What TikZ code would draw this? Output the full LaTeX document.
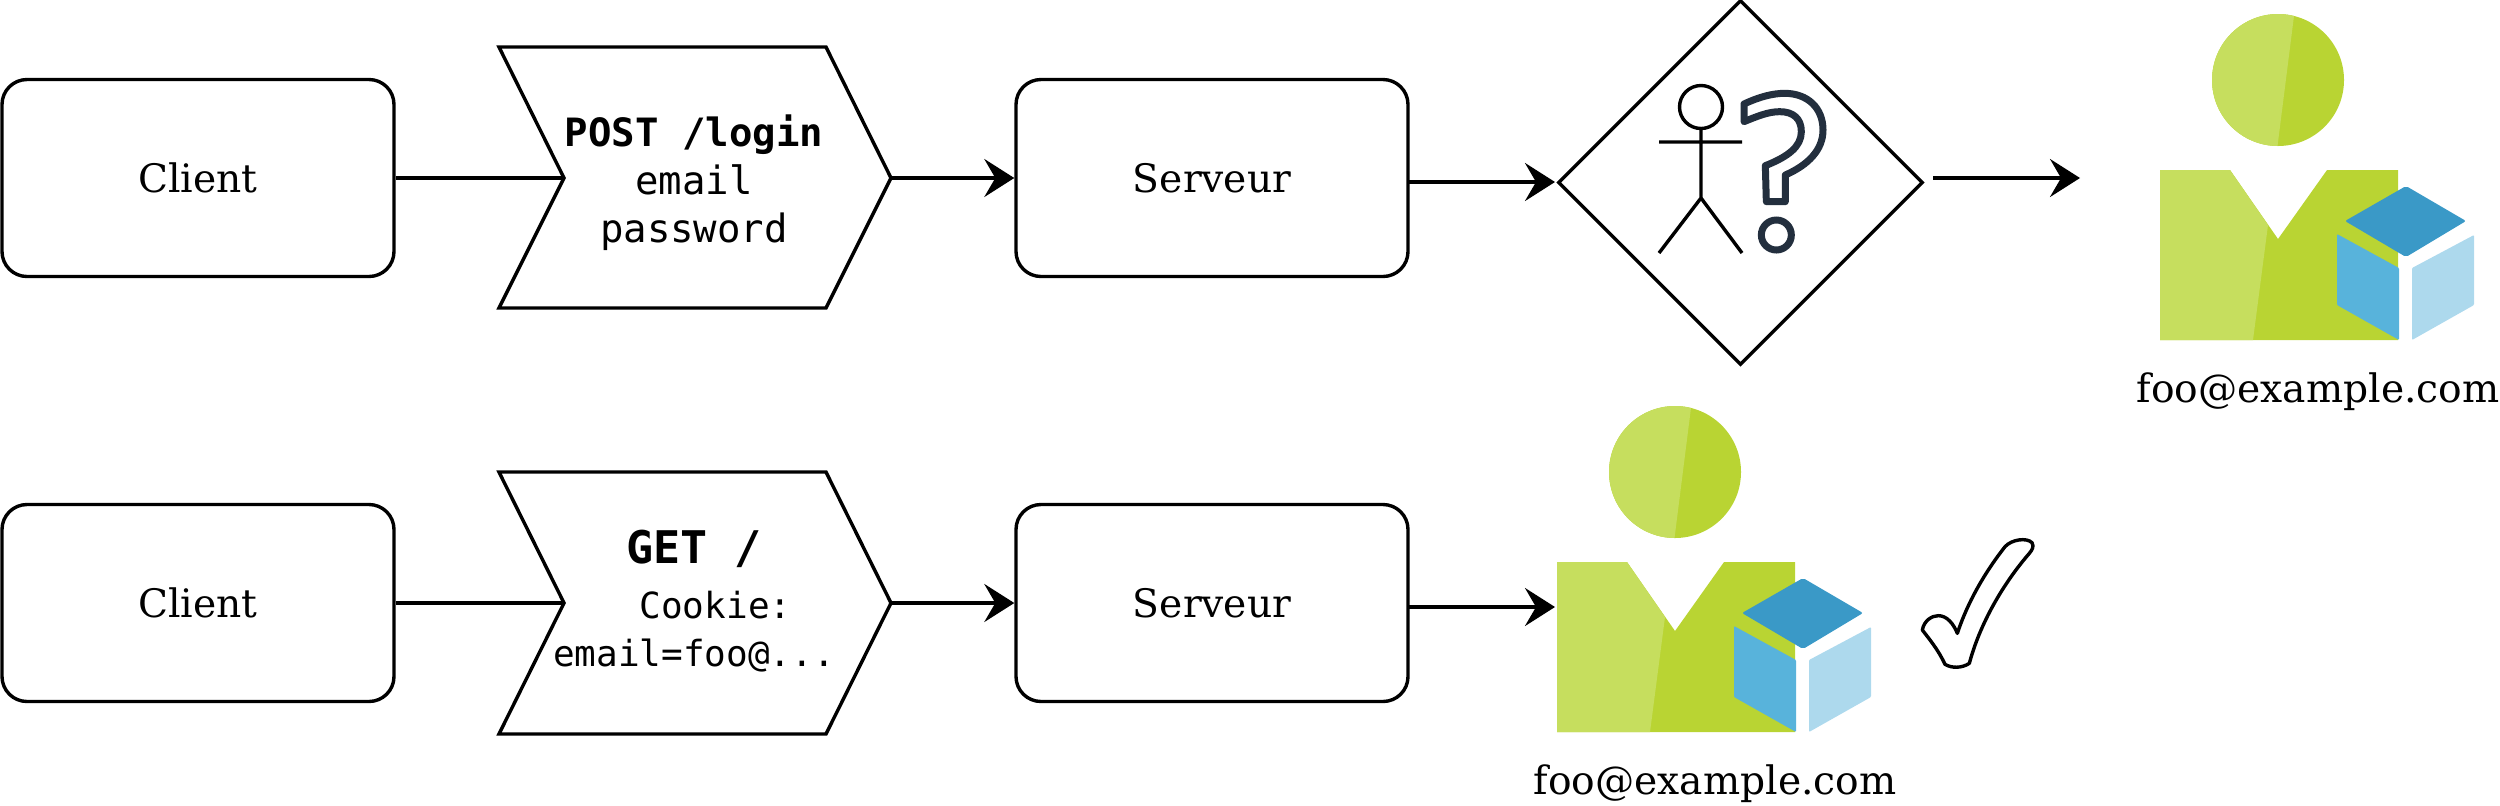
\documentclass[tikz,border=0pt]{standalone}
\usepackage{fontspec}
\setmainfont{DejaVu Serif}
\setmonofont{DejaVu Sans Mono}
\usetikzlibrary{shapes.geometric,arrows.meta}
\definecolor{lgreen}{HTML}{C6DE5E}
\definecolor{dgreen}{HTML}{B9D433}
\definecolor{ctop}{HTML}{3A99C7}
\definecolor{cleft}{HTML}{58B3DB}
\definecolor{cright}{HTML}{ADD9ED}
\definecolor{qmark}{HTML}{232F3E}
\tikzset{
  ln/.style={line width=1.7pt,draw=black,line join=miter},
  arr/.style={ln,-{Stealth[length=15pt,width=19pt,inset=5.5pt]}},
  bx/.style={ln,fill=white,rectangle,rounded corners=12.5pt,minimum width=196pt,minimum height=98.5pt,inner sep=0pt,font=\fontsize{19.6}{24}\selectfont},
  steptxt/.style={align=center,inner sep=0pt,font=\ttfamily\fontsize{19.5}{24}\selectfont},
  mail/.style={inner sep=0pt,font=\fontsize{19.6}{24}\selectfont,anchor=base},
  stepshape/.style={ln,fill=white}
}
\newcommand{\usericon}[3]{%
  \begin{scope}[shift={(#1,#2)}]
    \fill[dgreen] (2278,80) circle[radius=66];
    \begin{scope}
      \clip (2278,80) circle[radius=66];
      \fill[lgreen] (2200,0) -- (2296,0) -- (2277,150) -- (2200,150) -- cycle;
    \end{scope}
    \fill[dgreen] (2160,170) -- (2230,170) -- (2278,239) -- (2327,170) -- (2398,170) -- (2398,340) -- (2160,340) -- cycle;
    \fill[lgreen] (2160,170) -- (2230,170) -- (2268,225) -- (2253,340) -- (2160,340) -- cycle;
    \fill[ctop,rounded corners=1pt] (2406,186) -- (2466,221) -- (2406,257) -- (2345,221) -- cycle;
    \fill[cleft,rounded corners=.5pt] (2337,234) -- (2399,268) -- (2399,340) -- (2337,305) -- cycle;
    \fill[cright,rounded corners=.5pt] (2412,268) -- (2474,235) -- (2474,305) -- (2412,340) -- cycle;
    \node[mail] (#3) at (2318,402) {foo@example.com};
  \end{scope}}
\begin{document}
\begin{tikzpicture}[x=0.5pt,y=-0.5pt]
\useasboundingbox (0,0) rectangle (2500,805);
% row 1
\node[bx] (client1) at (198,178) {Client};
\node[bx] (server1) at (1212,178) {Serveur};
\draw[stepshape] (499,47) -- (826,47) -- (891,178) coordinate (s1tip) -- (826,308) -- (499,308) -- (564,178) coordinate (s1notch) -- cycle;
\node[steptxt] (s1text) at (694,183) {\textbf{POST /login}\\email\\password};
\node[diamond,ln,aspect=1,minimum width=182.5pt,minimum height=182.5pt,inner sep=0pt] (gate) at (1740.5,182.5) {};
\draw[ln] (client1.east) -- (s1notch);
\draw[arr] (s1tip) -- (server1.west);
\coordinate (srv1out) at (1409,182);
\coordinate (gatein) at (1555,182);
\draw[arr] (srv1out) -- (gatein);
\coordinate (gateout) at (1933,178);
\coordinate (iconin) at (2080,178);
\draw[arr] (gateout) -- (iconin);
% actor
\draw[line width=1.7pt] (1701,107) circle[radius=21.5];
\draw[line width=1.7pt] (1701,128.5) -- (1701,198) (1659,142) -- (1742,142) (1659,253) -- (1701,198) -- (1742,253);
% question mark
\begin{scope}[shift={(1538,0)},scale=1/3]
\draw[qmark,line width=3.5pt,line join=round] (618,312) .. controls (665,290) and (705,280) .. (740,280) .. controls (810,280) and (855,325) .. (855,390) .. controls (855,450) and (810,495) .. (742,525) -- (742,605) -- (685,605) -- (682,497) .. controls (750,470) and (790,440) .. (790,395) .. controls (790,355) and (765,335) .. (725,335) .. controls (690,335) and (655,350) .. (618,365) -- cycle;
\draw[qmark,line width=3.5pt] (715,705) circle[radius=45];
\end{scope}
\usericon{0}{0}{mail1}
% row 2
\node[bx] (client2) at (198,603) {Client};
\node[bx] (server2) at (1212,603) {Serveur};
\draw[stepshape] (499,472) -- (826,472) -- (891,603) coordinate (s2tip) -- (826,734) -- (499,734) -- (564,603) coordinate (s2notch) -- cycle;
\node[align=center,inner sep=0pt,font=\ttfamily] (s2text) at (694,601) {{\fontsize{22.5}{24}\selectfont\textbf{GET /}}\\[10.8pt]{\fontsize{18}{24}\selectfont\hspace*{21.5pt}Cookie:}\\[9.2pt]{\fontsize{18}{24}\selectfont email=foo@...}};
\draw[ln] (client2.east) -- (s2notch);
\draw[arr] (s2tip) -- (server2.west);
\coordinate (srv2out) at (1409,607);
\coordinate (iconin2) at (1555,607);
\draw[arr] (srv2out) -- (iconin2);
\usericon{-603}{392}{mail2}
% check mark
\begin{scope}[shift={(1880,500)},scale=1/3]
\draw[line width=1.7pt,line join=round] (232,400) .. controls (265,300) and (320,210) .. (375,140) .. controls (395,118) and (440,112) .. (456,128) .. controls (463,140) and (456,150) .. (448,160) .. controls (370,250) and (300,370) .. (268,490) .. controls (245,505) and (215,505) .. (195,493) .. controls (175,450) and (150,420) .. (127,390) .. controls (132,362) and (155,347) .. (175,347) .. controls (200,347) and (220,370) .. (232,400) -- cycle;
\end{scope}
\end{tikzpicture}
\end{document}
